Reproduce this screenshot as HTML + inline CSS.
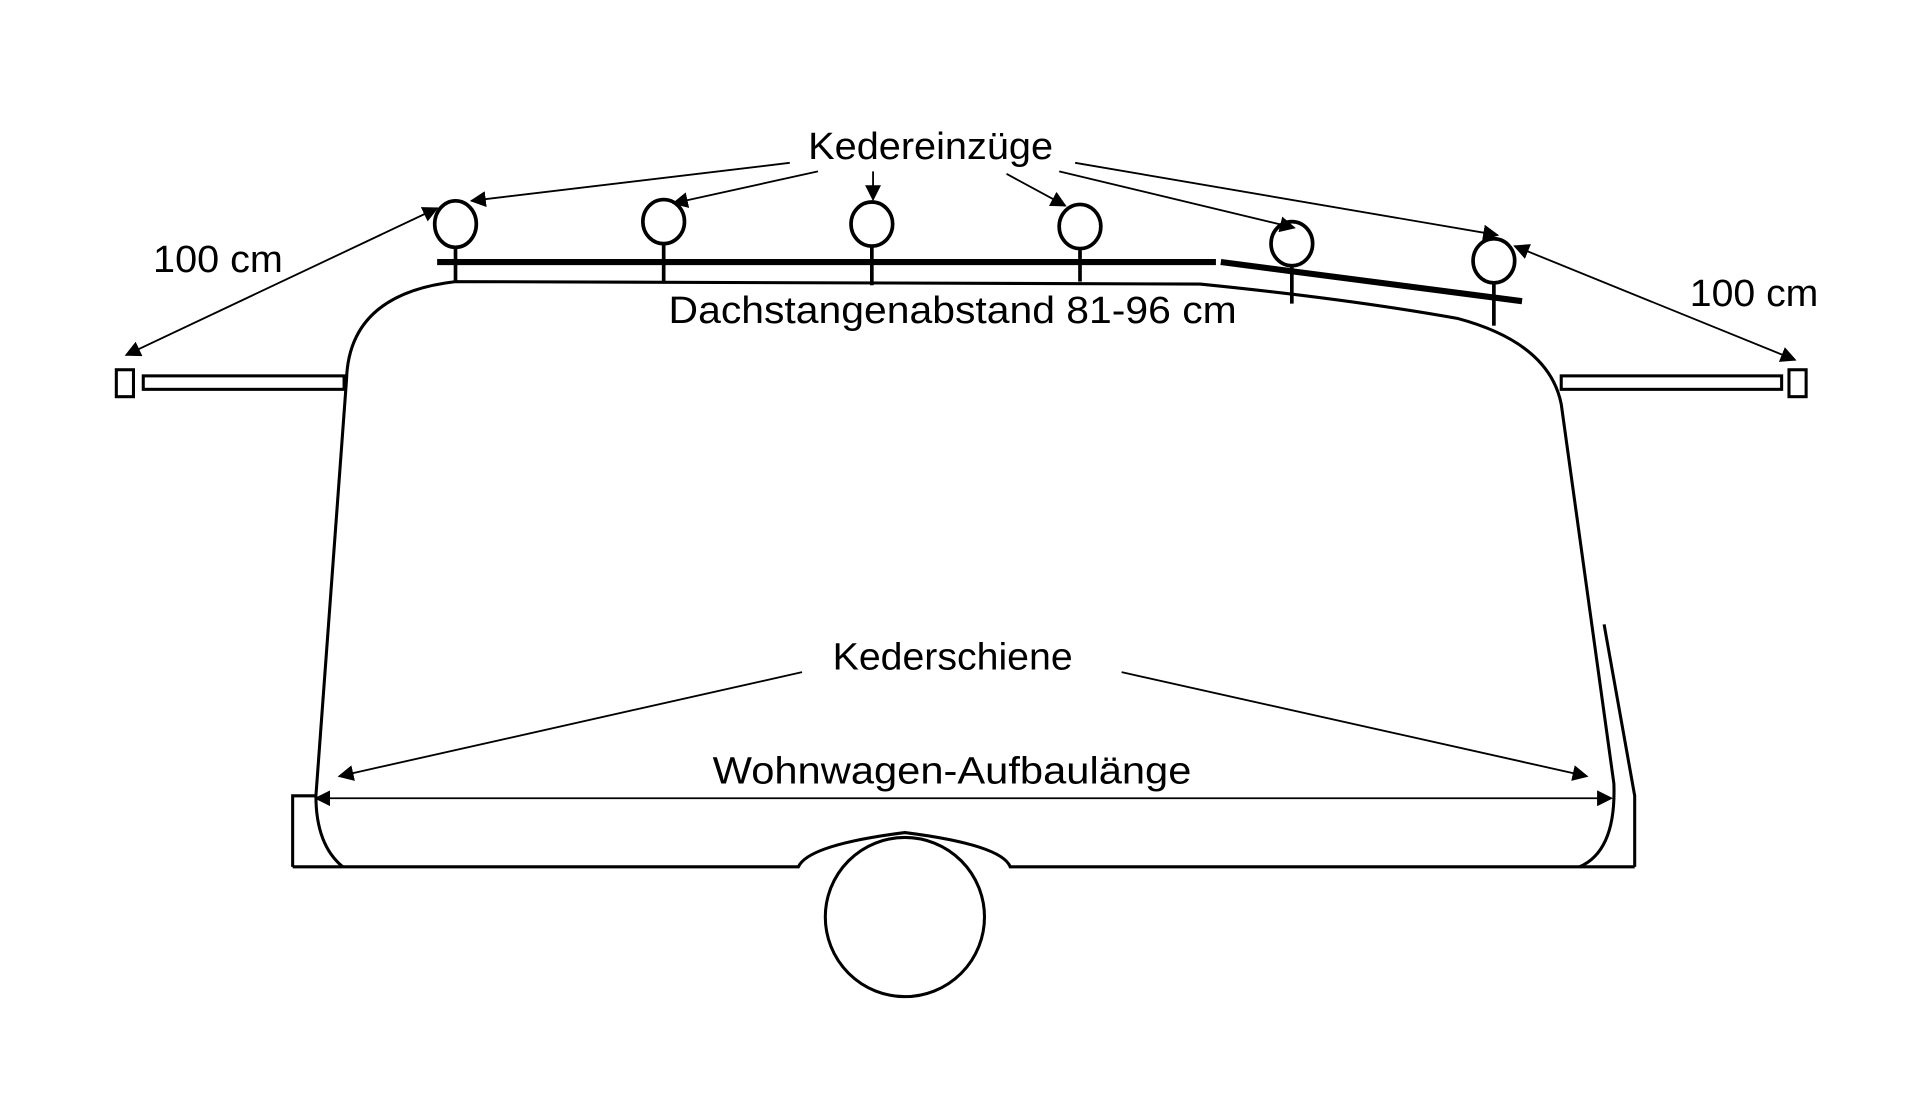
<!DOCTYPE html>
<html><head><meta charset="utf-8"><style>html,body{margin:0;padding:0;background:#fff}svg{display:block}</style></head>
<body>
<svg width="1920" height="1097" viewBox="0 0 1568 896" preserveAspectRatio="none" xmlns="http://www.w3.org/2000/svg">
<defs>
<marker id="a" viewBox="0 0 10 10" refX="9" refY="5" markerWidth="13" markerHeight="13" markerUnits="userSpaceOnUse" orient="auto-start-reverse"><path d="M0,0L10,5L0,10z" fill="#000"/></marker>
</defs>
<g fill="none" stroke="#000" stroke-width="2.5">
<path d="M280,708 Q258,690 258,650 L283,310 Q285,240 372,230 L980,232 Q1100,244 1190,260 Q1265,280 1275,330 L1318,640 Q1320,695 1290,708"/>
<path d="M239,708 L652,708 Q660,690 739,680 Q818,690 825,708 L1335,708"/>
<path d="M239,708 L239,650 L258,650"/>
<path d="M1310,510 L1335,650 L1335,708"/>
<circle cx="739" cy="749" r="65"/>
<rect x="117" y="307" width="164" height="11"/>
<rect x="95" y="302" width="14" height="22"/>
<rect x="1275" y="307" width="180" height="11"/>
<rect x="1461" y="302" width="14" height="22"/>
<line x1="357" y1="214" x2="993" y2="214" stroke-width="5"/>
<line x1="997" y1="214" x2="1243" y2="246" stroke-width="5"/>
<g stroke-width="3">
<ellipse cx="372" cy="183" rx="17" ry="19"/><line x1="372" y1="202" x2="372" y2="231"/>
<ellipse cx="542" cy="181" rx="17" ry="18"/><line x1="542" y1="199" x2="542" y2="231"/>
<ellipse cx="712" cy="183" rx="17" ry="18"/><line x1="712" y1="201" x2="712" y2="233"/>
<ellipse cx="882" cy="185" rx="17" ry="18"/><line x1="882" y1="203" x2="882" y2="230"/>
<ellipse cx="1055" cy="199" rx="17" ry="18"/><line x1="1055" y1="217" x2="1055" y2="248"/>
<ellipse cx="1220" cy="213" rx="17" ry="18"/><line x1="1220" y1="231" x2="1220" y2="266"/>
</g>
</g>
<g stroke="#000" stroke-width="1.5" fill="none" marker-end="url(#a)">
<line x1="645" y1="133" x2="385" y2="164"/>
<line x1="668" y1="140" x2="550" y2="166"/>
<line x1="713" y1="140" x2="713" y2="163"/>
<line x1="822" y1="142" x2="870" y2="168"/>
<line x1="865" y1="140" x2="1057" y2="186"/>
<line x1="878" y1="133" x2="1223" y2="192"/>
<line x1="103" y1="290" x2="357" y2="170" marker-start="url(#a)"/>
<line x1="1237" y1="201" x2="1466" y2="294" marker-start="url(#a)"/>
<line x1="655" y1="549" x2="277" y2="634"/>
<line x1="916" y1="549" x2="1296" y2="634"/>
<line x1="258" y1="652" x2="1316" y2="652" marker-start="url(#a)"/>
</g>
<g font-family="Liberation Sans, sans-serif" font-size="31" fill="#000" lengthAdjust="spacingAndGlyphs">
<text x="660" y="130" textLength="200" lengthAdjust="spacingAndGlyphs">Kedereinzüge</text>
<text x="125" y="222" textLength="106" lengthAdjust="spacingAndGlyphs">100 cm</text>
<text x="1380" y="250" textLength="105" lengthAdjust="spacingAndGlyphs">100 cm</text>
<text x="546" y="264" textLength="464" lengthAdjust="spacingAndGlyphs">Dachstangenabstand 81-96 cm</text>
<text x="680" y="547" textLength="196" lengthAdjust="spacingAndGlyphs">Kederschiene</text>
<text x="582" y="640" textLength="391" lengthAdjust="spacingAndGlyphs">Wohnwagen-Aufbaulänge</text>
</g>
</svg>
</body></html>
